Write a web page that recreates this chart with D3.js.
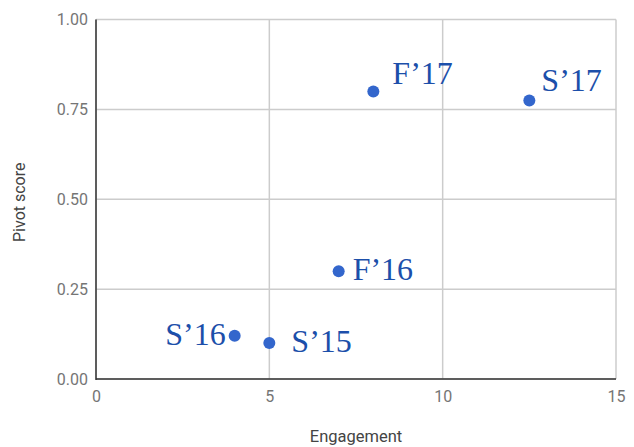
<!DOCTYPE html>
<html>
<head>
<meta charset="utf-8">
<script src="https://cdn.jsdelivr.net/npm/d3@7"></script>
<style>
  body { margin: 0; background: #fff; }
  svg { display: block; }
</style>
</head>
<body>
<svg id="chart" width="634" height="447"></svg>
<script>
"use strict";

// data
var terms = ["S'15", "S'16", "F'16", "F'17", "S'17"]
var engagement = [5, 4, 7, 8, 12.5]
var pivotScore = [0.10, 0.12, 0.30, 0.80, 0.775]
var xTicks = [0, 5, 10, 15]
var yTicks = [0, 0.25, 0.5, 0.75, 1]

// label placement per point: which side of the dot
var labelSide = ["right", "left", "right", "upright", "upright"]

var plotLeft = 96
var plotRight = 616
var plotTop = 19.5
var plotBottom = 379

var svg = d3.select("#chart")

var x = d3.scaleLinear().domain([0, 15]).range([plotLeft, plotRight])
var y = d3.scaleLinear().domain([0, 1]).range([plotBottom, plotTop])

var data = terms.map(function(d, i) {
    return { term: d.replace("'", "\u2019"), x: engagement[i], y: pivotScore[i], side: labelSide[i] }
})

// gridlines
svg.append("g")
    .selectAll("line")
    .data(xTicks)
    .enter().append("line")
    .attr("x1", function(d) { return x(d) })
    .attr("x2", function(d) { return x(d) })
    .attr("y1", plotTop)
    .attr("y2", plotBottom)
    .attr("stroke", "#cccccc")
    .attr("stroke-width", 1.5)

svg.append("g")
    .selectAll("line")
    .data(yTicks)
    .enter().append("line")
    .attr("x1", plotLeft)
    .attr("x2", plotRight)
    .attr("y1", function(d) { return y(d) })
    .attr("y2", function(d) { return y(d) })
    .attr("stroke", "#cccccc")
    .attr("stroke-width", 1.5)

// axes
var xAxis = d3.axisBottom(x).tickValues(xTicks).tickSize(0).tickPadding(12)
    .tickFormat(d3.format("d"))
var yAxis = d3.axisLeft(y).tickValues(yTicks).tickSize(0).tickPadding(8)
    .tickFormat(d3.format(".2f"))

var gx = svg.append("g")
    .attr("transform", "translate(0," + plotBottom + ")")
    .call(xAxis)
var gy = svg.append("g")
    .attr("transform", "translate(" + plotLeft + ",0)")
    .call(yAxis)

;[gx, gy].forEach(function(g) {
    g.select(".domain").remove()
    g.selectAll("text")
        .attr("fill", "#757575")
        .style("font-family", "Roboto, sans-serif")
        .style("font-size", "16px")
})

svg.append("line")
    .attr("x1", plotLeft).attr("x2", plotLeft)
    .attr("y1", plotTop).attr("y2", plotBottom + 1)
    .attr("stroke", "#333333").attr("stroke-width", 1.5)
svg.append("line")
    .attr("x1", plotLeft).attr("x2", plotRight)
    .attr("y1", plotBottom).attr("y2", plotBottom)
    .attr("stroke", "#333333").attr("stroke-width", 1.5)

// axis titles
svg.append("text")
    .attr("x", (plotLeft + plotRight) / 2)
    .attr("y", 442)
    .attr("text-anchor", "middle")
    .attr("fill", "#444444")
    .style("font-family", "Roboto, sans-serif")
    .style("font-size", "16.5px")
    .text("Engagement")

svg.append("text")
    .attr("transform", "translate(25," + ((plotTop + plotBottom) / 2 + 3) + ") rotate(-90)")
    .attr("text-anchor", "middle")
    .attr("fill", "#444444")
    .style("font-family", "Roboto, sans-serif")
    .style("font-size", "16px")
    .text("Pivot score")

// points
svg.append("g")
    .selectAll("circle")
    .data(data)
    .enter().append("circle")
    .attr("cx", function(d) { return x(d.x) })
    .attr("cy", function(d) { return y(d.y) })
    .attr("r", 6)
    .attr("fill", "#3366cc")

// labels
svg.append("g")
    .selectAll("text")
    .data(data)
    .enter().append("text")
    .attr("x", function(d) {
        if (d.side === "left") return x(d.x) - 9
        if (d.side === "upright") return x(d.x) + (d.x > 10 ? 12 : 19)
        return x(d.x) + (d.x === 5 ? 22 : 14)
    })
    .attr("y", function(d) {
        if (d.side === "upright") return y(d.y) - (d.x > 10 ? 9 : 7)
        return y(d.y) + 9
    })
    .attr("text-anchor", function(d) { return d.side === "left" ? "end" : "start" })
    .attr("fill", "#1c4faa")
    .style("font-family", "'Liberation Serif', 'Times New Roman', serif")
    .style("font-size", "32px")
    .text(function(d) { return d.term })
</script>
</body>
</html>
